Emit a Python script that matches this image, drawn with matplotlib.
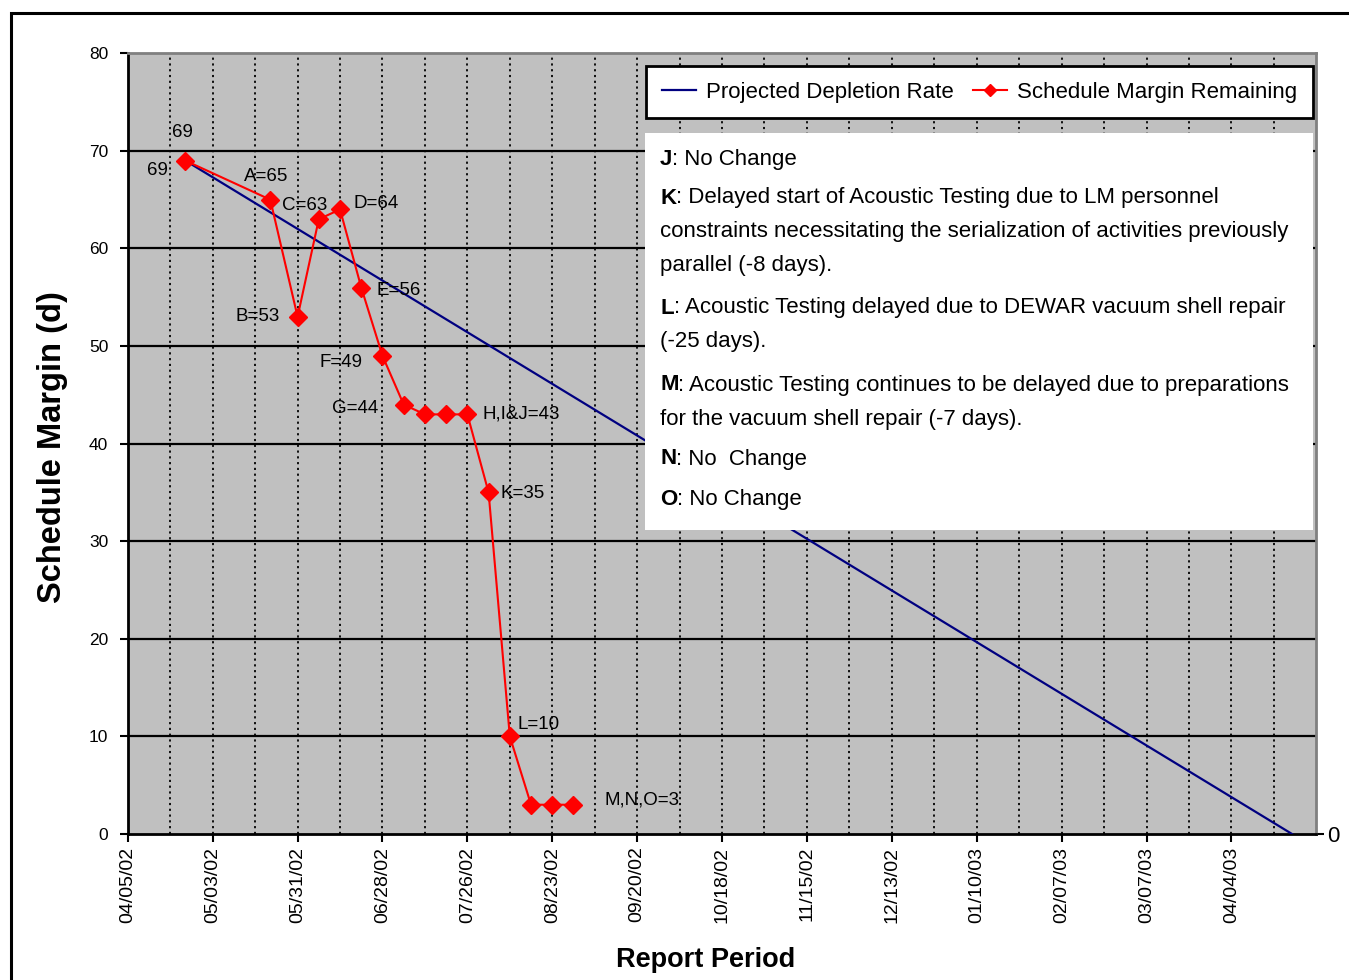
import matplotlib
matplotlib.use("Agg")
import matplotlib.pyplot as plt
import matplotlib.dates as mdates
from matplotlib.lines import Line2D
from matplotlib.patches import Rectangle
from matplotlib.text import Annotation
import pandas as pd

# ---------------- data ----------------
margin_dates = ["2002-04-24", "2002-05-22", "2002-05-31", "2002-06-07", "2002-06-14",
                "2002-06-21", "2002-06-28", "2002-07-05", "2002-07-12", "2002-07-19",
                "2002-07-26", "2002-08-02", "2002-08-09", "2002-08-16", "2002-08-23",
                "2002-08-30"]
margin_values = [69, 65, 53, 63, 64, 56, 49, 44, 43, 43, 43, 35, 10, 3, 3, 3]

depletion_dates = ["2002-04-24", "2003-04-24"]
depletion_values = [69, 0]

# labelled points: (index into margin series, label)
point_labels = [(0, "69"), (1, "A=65"), (2, "B=53"), (3, "C=63"), (4, "D=64"),
                (5, "E=56"), (6, "F=49"), (7, "G=44"), (10, "H,I&J=43"),
                (11, "K=35"), (12, "L=10"), (15, "M,N,O=3")]
depletion_start_label = "69"

x_start, x_end = "2002-04-05", "2003-05-02"
tick_start, tick_end = "2002-04-05", "2003-04-04"
y_ticks = [0, 10, 20, 30, 40, 50, 60, 70, 80]
right_ticks = [0]

legend_labels = ["Projected Depletion Rate", "Schedule Margin Remaining"]

notes = [("J", ": No Change"),
         ("K", ": Delayed start of Acoustic Testing due to LM personnel"),
         ("", "constraints necessitating the serialization of activities previously"),
         ("", "parallel (-8 days)."),
         ("L", ": Acoustic Testing delayed due to DEWAR vacuum shell repair"),
         ("", "(-25 days)."),
         ("M", ": Acoustic Testing continues to be delayed due to preparations"),
         ("", "for the vacuum shell repair (-7 days)."),
         ("N", ": No  Change"),
         ("O", ": No Change")]

# ---------------- style ----------------
FONT = ["Liberation Sans", "DejaVu Sans"]

W, H = 1349, 980
fig = plt.figure(figsize=(W / 100, H / 100), dpi=100)
fig.patch.set_facecolor("white")


def fx(px):
    return px / W


def fy(py):
    return 1 - py / H


left, right, top, bottom = 127.8, 1316.3, 53.3, 834.0
ax = fig.add_axes([fx(left), fy(bottom), fx(right - left), fy(top) - fy(bottom)])
ax.set_facecolor("#C0C0C0")

md = pd.to_datetime(margin_dates)
dd = pd.to_datetime(depletion_dates)

ax.set_xlim(pd.Timestamp(x_start), pd.Timestamp(x_end))
ax.set_ylim(0, 80)

major = pd.date_range(tick_start, tick_end, freq="28D")
minor = pd.date_range(tick_start, x_end, freq="14D")
ax.set_xticks(major)
ax.set_xticks(minor, minor=True)
ax.xaxis.set_major_formatter(mdates.DateFormatter("%m/%d/%y"))
ax.set_yticks(y_ticks)

# vertical dotted grid lines every 14 days
for d in minor:
    if pd.Timestamp(x_start) < d < pd.Timestamp(x_end):
        ax.axvline(d, color="black", lw=1.3, ls=(0, (1.2, 2.0)), zorder=1)
# horizontal solid grid
for y in y_ticks[1:-1]:
    ax.axhline(y, color="black", lw=1.6, zorder=1)

ax.plot(dd, depletion_values, color="#000080", lw=1.6, zorder=3,
        label=legend_labels[0])
ax.plot(md, margin_values, color="#FF0000", lw=1.5, marker="D", ms=9,
        markeredgecolor="#FF0000", zorder=4, label=legend_labels[1])

# data labels (offsets in pixels)
offsets = {0: (-3, 28), 1: (-4, 23), 2: (-40, 0), 3: (-14, 14), 4: (36, 6),
           5: (37, -3), 6: (-41, -7), 7: (-49, -4), 10: (54, 0), 11: (34, -1),
           12: (29, 12), 15: (69, 5)}
for idx, lab in point_labels:
    ax.annotate(lab, (md[idx], margin_values[idx]), xytext=offsets[idx],
                textcoords="offset pixels", ha="center", va="center",
                fontsize=13.5, family=FONT, zorder=5)
ax.annotate(depletion_start_label, (dd[0], depletion_values[0]), xytext=(-28, -10),
            textcoords="offset pixels", ha="center", va="center",
            fontsize=13.5, family=FONT, zorder=5)

# spines / ticks
for s in ["left", "bottom"]:
    ax.spines[s].set_color("black")
    ax.spines[s].set_linewidth(2)
for s in ["top", "right"]:
    ax.spines[s].set_color("#808080")
    ax.spines[s].set_linewidth(2)
ax.tick_params(axis="x", which="major", direction="out", length=6, width=1.5,
               pad=3, labelsize=14, labelrotation=90)
ax.tick_params(axis="x", which="minor", length=0)
ax.tick_params(axis="y", direction="out", length=6, width=1.5, pad=8, labelsize=12.5)
for t in ax.get_xticklabels() + ax.get_yticklabels():
    t.set_family(FONT)

ax2 = ax.twinx()
ax2.set_ylim(0, 80)
ax2.set_yticks(right_ticks)
ax2.tick_params(axis="y", direction="out", length=6, width=1.5, pad=2, labelsize=16)
for t in ax2.get_yticklabels():
    t.set_family(FONT)
for s in ax2.spines.values():
    s.set_visible(False)

ax.set_zorder(1)
ax2.set_zorder(0)

fig.text(fx(53), fy(447), "Schedule Margin (d)", rotation=90, ha="center", va="center",
         fontsize=23.5, fontweight="bold", family=FONT)
fig.text(fx(706), fy(960), "Report Period", ha="center", va="center",
         fontsize=19.5, fontweight="bold", family=FONT)

# legend
fs_leg = 16
px_per_em = fs_leg * 100 / 72
handles = [Line2D([], [], color="#000080", lw=1.6),
           Line2D([], [], color="#FF0000", lw=1.5, marker="D", ms=6.5)]
leg = fig.legend(handles, legend_labels,
                 loc="upper left", bbox_to_anchor=(fx(646), fy(66)),
                 ncol=2, frameon=True, fancybox=False, edgecolor="black",
                 framealpha=1, borderaxespad=0, prop={"family": FONT, "size": fs_leg},
                 handlelength=34 / px_per_em, handletextpad=10 / px_per_em,
                 columnspacing=20 / px_per_em, borderpad=0.7)
leg.get_frame().set_linewidth(2)
leg.set_zorder(10)

# notes box
fig.add_artist(Rectangle((fx(645), fy(530)), fx(1313 - 645), fy(133) - fy(530),
                         transform=fig.transFigure, facecolor="white", edgecolor="none",
                         zorder=5))
line_y = [159, 198, 232, 266, 308, 342, 385, 419, 459, 499]
for (b, rest), yy in zip(notes, line_y):
    if b:
        tb = fig.text(fx(660), fy(yy), b, ha="left", va="center", fontsize=16,
                      fontweight="bold", family=FONT, zorder=6)
        fig.add_artist(Annotation(rest, xy=(1, 0), xycoords=tb, ha="left",
                                  va="bottom", fontsize=16, family=FONT, zorder=6))
    else:
        fig.text(fx(660), fy(yy), rest, ha="left", va="center", fontsize=16,
                 family=FONT, zorder=6)

# figure frame
fig.add_artist(Rectangle((fx(11), -0.1), 1.2, fy(13) + 0.1, transform=fig.transFigure,
                         fill=False, edgecolor="black", lw=2.2, clip_on=False, zorder=20))

fig.savefig("out.png", dpi=100)
